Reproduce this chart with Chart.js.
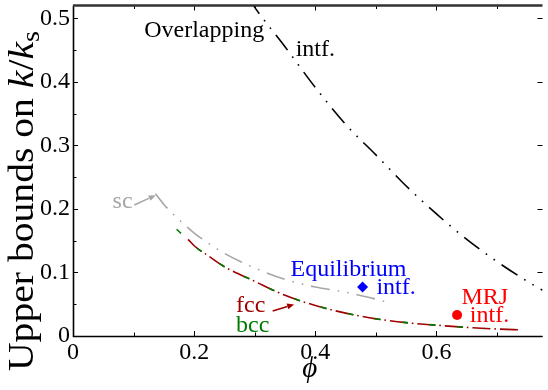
<!DOCTYPE html>
<html>
<head>
<meta charset="utf-8">
<script src="https://cdn.jsdelivr.net/npm/chart.js@4.4.1/dist/chart.umd.min.js"></script>
<style>
  html, body { margin: 0; padding: 0; background: #fff; }
  canvas { display: block; }
</style>
</head>
<body>
<canvas id="c" width="548" height="390"></canvas>
<script>
// Upper bounds on the effective conductivity k/k_s versus volume fraction phi
const phiOverlap = [0.29, 0.30, 0.35, 0.40, 0.45, 0.50, 0.55, 0.60, 0.65, 0.70, 0.75, 0.775];
const kOverlap   = [0.532, 0.517, 0.455, 0.391, 0.333, 0.285, 0.236, 0.192, 0.152, 0.117, 0.086, 0.072];

const phiSC = [0.136, 0.15, 0.175, 0.20, 0.225, 0.25, 0.30, 0.35, 0.40, 0.45, 0.50, 0.5236];
const kSC   = [0.224, 0.207, 0.183, 0.162, 0.145, 0.130, 0.107, 0.089, 0.077, 0.069, 0.058, 0.052];

const phiFCC = [0.19, 0.20, 0.225, 0.25, 0.30, 0.35, 0.40, 0.45, 0.50, 0.55, 0.60, 0.65, 0.70, 0.7405];
const kFCC   = [0.152, 0.142, 0.125, 0.109, 0.086, 0.064, 0.048, 0.036, 0.027, 0.021, 0.017, 0.0135, 0.011, 0.0095];

const phiBCC = [0.17, 0.18, 0.19, 0.20, 0.225, 0.25, 0.30, 0.35, 0.40, 0.45, 0.50, 0.55, 0.60, 0.65, 0.68];
const kBCC   = [0.169, 0.160, 0.152, 0.142, 0.125, 0.109, 0.086, 0.064, 0.048, 0.036, 0.027, 0.021, 0.017, 0.0135, 0.012];

const phiEquilibrium = [0.478];
const kEquilibrium   = [0.077];
const phiMRJ = [0.634];
const kMRJ   = [0.033];

// Axis ticks
const xMajorTicks = [0, 0.2, 0.4, 0.6];
const xTickLabels = ['0', '0.2', '0.4', '0.6'];
const xMinorTicks = [0.1, 0.3, 0.5, 0.7];
const yMajorTicks = [0, 0.1, 0.2, 0.3, 0.4, 0.5];
const yTickLabels = ['0', '0.1', '0.2', '0.3', '0.4', '0.5'];
const yMinorTicks = [0.05, 0.15, 0.25, 0.35, 0.45];

const SERIF = '"Liberation Serif", "DejaVu Serif", serif';
const DARKRED = '#a00000';
const GREEN = '#007a00';
const GRAY = '#a6a6a6';

const pts = (xs, ys) => xs.map((x, i) => ({ x, y: ys[i] }));

function curve(label, xs, ys, color, dash, offset, order) {
  return {
    label, data: pts(xs, ys), showLine: true, order,
    borderColor: color, borderWidth: 1.6, borderDash: dash, borderDashOffset: offset,
    pointRadius: 0, pointHoverRadius: 0, fill: false,
    cubicInterpolationMode: 'monotone', clip: 0
  };
}

// Labels placed in data coordinates
const notes = [
  { text: 'Overlapping', x: 0.1175, y: 0.470, color: '#000' },
  { text: 'intf.', x: 0.3676, y: 0.441, color: '#000' },
  { text: 'sc', x: 0.0653, y: 0.2018, color: GRAY },
  { text: 'Equilibrium', x: 0.359, y: 0.0947, color: '#0000ff' },
  { text: 'intf.', x: 0.5009, y: 0.0663, color: '#0000ff' },
  { text: 'MRJ', x: 0.6412, y: 0.0508, color: '#ff0000' },
  { text: 'intf.', x: 0.655, y: 0.0217, color: '#ff0000' },
  { text: 'fcc', x: 0.2692, y: 0.0377, color: DARKRED },
  { text: 'bcc', x: 0.2692, y: 0.0067, color: GREEN }
];
const arrows = [
  { from: [0.1012, 0.206], to: [0.1366, 0.2215], color: GRAY },
  { from: [0.3296, 0.0393], to: [0.365, 0.0497], color: DARKRED }
];

const decorations = {
  id: 'decorations',
  afterDatasetsDraw(chart) {
    const { ctx, chartArea: a, scales: { x, y } } = chart;
    ctx.save();

    // tick marks pointing into the plot
    ctx.strokeStyle = '#000';
    ctx.lineWidth = 1;
    const vtick = (v, len, fromBottom) => {
      const px = Math.round(x.getPixelForValue(v)) + 0.5;
      ctx.beginPath();
      if (fromBottom) { ctx.moveTo(px, a.bottom); ctx.lineTo(px, a.bottom - len); }
      else { ctx.moveTo(px, a.top); ctx.lineTo(px, a.top + len); }
      ctx.stroke();
    };
    const htick = (v, len, fromLeft) => {
      const py = Math.round(y.getPixelForValue(v)) + 0.5;
      ctx.beginPath();
      if (fromLeft) { ctx.moveTo(a.left, py); ctx.lineTo(a.left + len, py); }
      else { ctx.moveTo(a.right, py); ctx.lineTo(a.right - len, py); }
      ctx.stroke();
    };
    xMajorTicks.forEach(v => { vtick(v, 5, true); vtick(v, 5, false); });
    xMinorTicks.forEach(v => { vtick(v, 3.5, true); vtick(v, 3.5, false); });
    yMajorTicks.forEach(v => { htick(v, 5, true); htick(v, 5, false); });
    yMinorTicks.forEach(v => { htick(v, 3.5, true); });

    // spines
    ctx.strokeStyle = '#000';
    ctx.lineWidth = 1.6;
    ctx.beginPath();
    ctx.moveTo(a.left + 0.5, a.top);
    ctx.lineTo(a.left + 0.5, a.bottom + 0.5);
    ctx.lineTo(a.right, a.bottom + 0.5);
    ctx.stroke();
    ctx.strokeStyle = '#333';
    ctx.lineWidth = 2.4;
    ctx.beginPath();
    ctx.moveTo(a.left, a.top);
    ctx.lineTo(a.right, a.top);
    ctx.stroke();

    // arrows
    arrows.forEach(ar => {
      const x1 = x.getPixelForValue(ar.from[0]), y1 = y.getPixelForValue(ar.from[1]);
      const x2 = x.getPixelForValue(ar.to[0]), y2 = y.getPixelForValue(ar.to[1]);
      const ang = Math.atan2(y2 - y1, x2 - x1);
      const hl = 7, hw = 3;
      ctx.strokeStyle = ar.color;
      ctx.fillStyle = ar.color;
      ctx.lineWidth = 1.6;
      ctx.beginPath();
      ctx.moveTo(x1, y1);
      ctx.lineTo(x2 - hl * Math.cos(ang), y2 - hl * Math.sin(ang));
      ctx.stroke();
      ctx.beginPath();
      ctx.moveTo(x2, y2);
      ctx.lineTo(x2 - hl * Math.cos(ang) + hw * Math.sin(ang), y2 - hl * Math.sin(ang) - hw * Math.cos(ang));
      ctx.lineTo(x2 - hl * Math.cos(ang) - hw * Math.sin(ang), y2 - hl * Math.sin(ang) + hw * Math.cos(ang));
      ctx.closePath();
      ctx.fill();
    });

    // text labels
    ctx.textAlign = 'left';
    ctx.textBaseline = 'alphabetic';
    ctx.font = '24px ' + SERIF;
    notes.forEach(n => {
      ctx.fillStyle = n.color;
      ctx.fillText(n.text, x.getPixelForValue(n.x), y.getPixelForValue(n.y));
    });

    // x axis title
    ctx.fillStyle = '#000';
    ctx.font = 'italic 29px ' + SERIF;
    ctx.textAlign = 'center';
    ctx.fillText('\u03d5', (a.left + a.right) / 2 + 2, 377);

    // y axis title: Upper bounds on k/k_s, stretched to the span of the axis label
    const parts = [
      { t: 'Upper bounds on ', f: '35px ' + SERIF, dy: 0 },
      { t: 'k', f: 'italic 35px ' + SERIF, dy: 0 },
      { t: '/', f: '35px ' + SERIF, dy: 0 },
      { t: 'k', f: 'italic 35px ' + SERIF, dy: 0 },
      { t: 's', f: '25px ' + SERIF, dy: 6 }
    ];
    let total = 0;
    parts.forEach(p => { ctx.font = p.f; p.w = ctx.measureText(p.t).width; total += p.w; });
    const stretch = 340 / total;
    ctx.translate(33, 201);
    ctx.rotate(-Math.PI / 2);
    ctx.scale(stretch, 1);
    ctx.textAlign = 'left';
    let cx = -total / 2;
    parts.forEach(p => {
      ctx.font = p.f;
      ctx.fillText(p.t, cx, p.dy);
      cx += p.w;
    });
    ctx.restore();
  }
};

const DOTDASH2 = [19, 8, 1.6, 8, 1.6, 8];
const FCC_DASH = [18, 4, 1.6, 4];
const BCC_DASH = [6, 21.6];

new Chart(document.getElementById('c'), {
  type: 'scatter',
  data: {
    datasets: [
      curve('Overlapping intf.', phiOverlap, kOverlap, '#000', DOTDASH2, 0, 1),
      curve('sc', phiSC, kSC, GRAY, DOTDASH2, 0, 2),
      curve('bcc', phiBCC, kBCC, GREEN, BCC_DASH, 26.7, 3),
      curve('fcc', phiFCC, kFCC, DARKRED, FCC_DASH, 0, 4),
      {
        label: 'Equilibrium intf.', data: pts(phiEquilibrium, kEquilibrium), order: 0,
        pointStyle: 'rectRot', pointRadius: 5.5, pointBackgroundColor: '#0000ff', pointBorderColor: '#0000ff', pointBorderWidth: 0
      },
      {
        label: 'MRJ intf.', data: pts(phiMRJ, kMRJ), order: 0,
        pointStyle: 'circle', pointRadius: 5, pointBackgroundColor: '#ff0000', pointBorderColor: '#ff0000', pointBorderWidth: 0
      }
    ]
  },
  options: {
    responsive: false,
    animation: false,
    devicePixelRatio: 1,
    layout: { padding: { top: 1, right: 0, left: 0, bottom: 0 } },
    plugins: { legend: { display: false }, tooltip: { enabled: false } },
    events: [],
    scales: {
      x: {
        type: 'linear', min: 0, max: 0.775,
        grid: { display: false, drawTicks: false },
        border: { display: false },
        afterBuildTicks: s => { s.ticks = xMajorTicks.map(v => ({ value: v })); },
        afterFit: s => { s.height = 54; s.paddingLeft = 0; s.paddingRight = 0; },
        ticks: {
          padding: 2, maxRotation: 0, autoSkip: false,
          color: '#000', font: { family: SERIF, size: 24 },
          callback: (v, i) => xTickLabels[i]
        }
      },
      y: {
        type: 'linear', min: 0, max: 0.52,
        grid: { display: false, drawTicks: false },
        border: { display: false },
        afterBuildTicks: s => { s.ticks = yMajorTicks.map(v => ({ value: v })); },
        afterFit: s => { s.width = 73; s.paddingTop = 0; s.paddingBottom = 0; },
        ticks: {
          padding: 3, autoSkip: false,
          color: '#000', font: { family: SERIF, size: 24 },
          callback: (v, i) => yTickLabels[i]
        }
      }
    }
  },
  plugins: [decorations]
});
</script>
</body>
</html>
